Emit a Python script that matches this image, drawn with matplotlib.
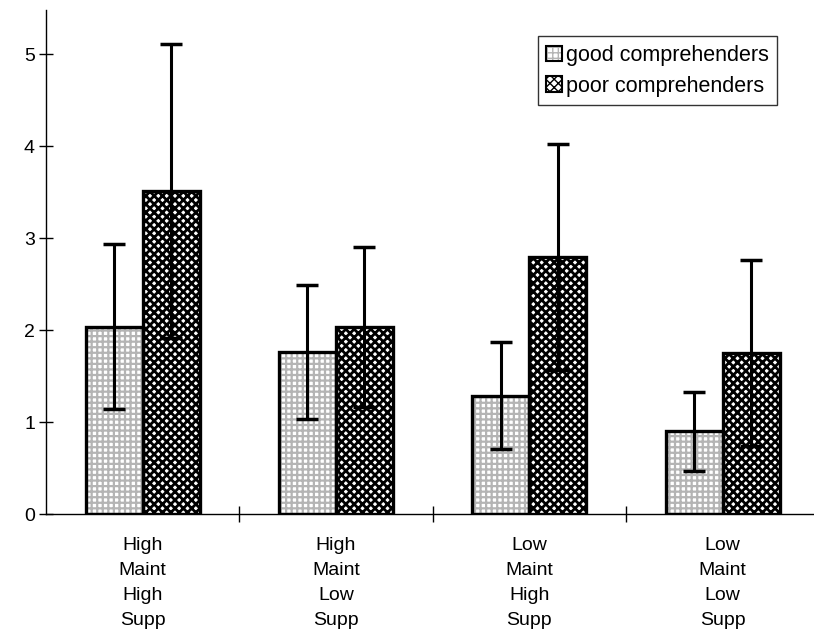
import numpy as np
import matplotlib as mpl
import matplotlib.pyplot as plt
from matplotlib.patches import Patch

plt.rcParams['font.family'] = ['Liberation Sans', 'DejaVu Sans']

categories = ['High\nMaint\nHigh\nSupp', 'High\nMaint\nLow\nSupp',
              'Low\nMaint\nHigh\nSupp', 'Low\nMaint\nLow\nSupp']
good_mean = [2.04, 1.76, 1.29, 0.90]
good_err = [0.90, 0.73, 0.58, 0.43]
poor_mean = [3.51, 2.04, 2.80, 1.75]
poor_err = [1.60, 0.87, 1.23, 1.01]

fig = plt.figure(figsize=(8.14, 6.34), dpi=100)
ax = fig.add_axes([0.0565, 0.189, 0.9435, 0.795])

x = np.arange(len(categories))
w = 0.295

# hatch fill first (hatch colour comes from edgecolor), then a black outline on top
with mpl.rc_context({'hatch.linewidth': 1.6}):
    ax.bar(x - w / 2, good_mean, w, color='white', edgecolor='#b4b4b4',
           linewidth=0, hatch='+++', zorder=2)
    h_good = Patch(facecolor='white', edgecolor='#b4b4b4', hatch='+++', linewidth=0)
with mpl.rc_context({'hatch.linewidth': 2.0}):
    ax.bar(x + w / 2, poor_mean, w, color='white', edgecolor='black',
           linewidth=0, hatch='xxxx', zorder=2)
    h_poor = Patch(facecolor='white', edgecolor='black', hatch='xxxx', linewidth=0)

ax.bar(x - w / 2, good_mean, w, fill=False, edgecolor='black', linewidth=2.4, zorder=2.5)
ax.bar(x + w / 2, poor_mean, w, fill=False, edgecolor='black', linewidth=2.4, zorder=2.5)
h_box = Patch(fill=False, edgecolor='black', linewidth=1.5)

ax.errorbar(x - w / 2, good_mean, yerr=good_err, fmt='none', ecolor='black',
            elinewidth=2.2, capsize=8, capthick=2.5, zorder=3)
ax.errorbar(x + w / 2, poor_mean, yerr=poor_err, fmt='none', ecolor='black',
            elinewidth=2.2, capsize=8, capthick=2.5, zorder=3)

ax.set_xlim(-0.5, 3.473)
ax.set_ylim(0, 5.48)
ax.set_yticks([0, 1, 2, 3, 4, 5])
ax.tick_params(axis='y', direction='inout', length=10, width=1, labelsize=14, pad=3)
ax.set_xticks([0.5, 1.5, 2.5])
ax.set_xticklabels([])
ax.tick_params(axis='x', direction='inout', length=12, width=1)

for xi, lab in zip(x, categories):
    ax.text(xi, -0.25, lab, ha='center', va='top', fontsize=14,
            linespacing=1.62, clip_on=False)

for s in ['top', 'right']:
    ax.spines[s].set_visible(False)
ax.spines['left'].set_linewidth(1)
ax.spines['bottom'].set_linewidth(1)

leg = ax.legend([(h_good, h_box), (h_poor, h_box)],
                ['good comprehenders', 'poor comprehenders'],
                loc='upper right', bbox_to_anchor=(0.952, 0.948), fontsize=15.5,
                frameon=True, fancybox=False, edgecolor='black',
                handlelength=0.75, handleheight=0.75, handletextpad=0.15,
                borderpad=0.4, labelspacing=0.45, borderaxespad=0)
leg.get_frame().set_linewidth(1)

fig.savefig('out.png', dpi=100)
